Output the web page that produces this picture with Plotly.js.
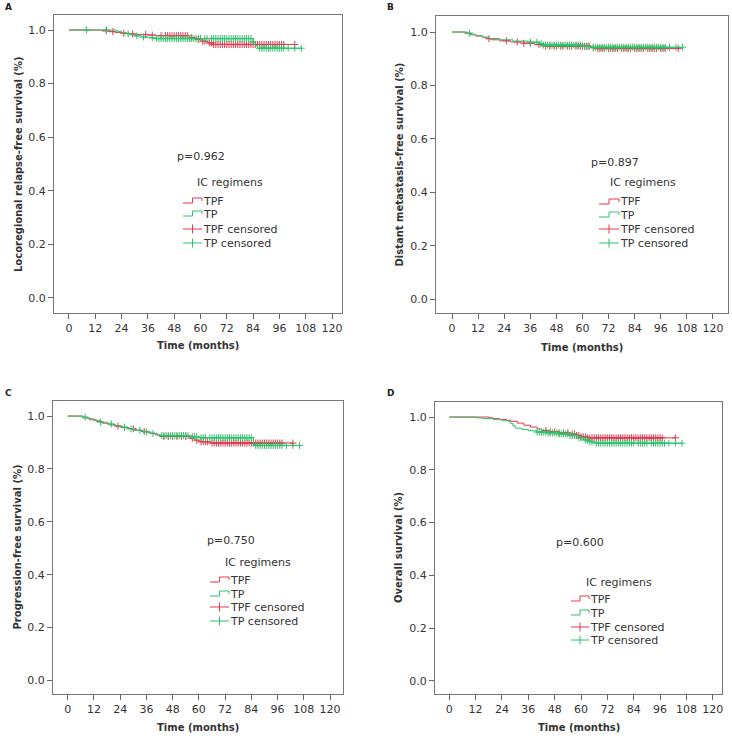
<!DOCTYPE html>
<html>
<head>
<meta charset="utf-8">
<script src="https://cdn.plot.ly/plotly-3.0.1.min.js"></script>
<style>html,body{margin:0;padding:0;background:#fff;}#chart{width:732px;height:736px;}</style>
</head>
<body>
<div id="chart"></div>
<script>
// ---------- DATA ----------
var xTicks = [0, 12, 24, 36, 48, 60, 72, 84, 96, 108, 120];
var yTicks = [0.0, 0.2, 0.4, 0.6, 0.8, 1.0];
var yTickLabels = ["0.0", "0.2", "0.4", "0.6", "0.8", "1.0"];
var seriesNames = ["TPF", "TP"];
var panelLetters = ["A", "B", "C", "D"];
var yTitles = ["Locoregional relapse-free survival (%)", "Distant metastasis-free survival (%)",
               "Progression-free survival (%)", "Overall survival (%)"];
var pValues = ["p=0.962", "p=0.897", "p=0.750", "p=0.600"];

// Panel A
var A_TPF_t = [0, 15, 18, 21, 24, 28, 31, 36, 40, 55, 58, 60, 63, 66];
var A_TPF_s = [1, 0.997, 0.994, 0.991, 0.988, 0.985, 0.983, 0.981, 0.979, 0.972, 0.965, 0.958, 0.952, 0.946];
var A_TPF_end = 103;
var A_TPF_cens = [17, 20, 25, 29, 35, 38, 42, 44, 45, 46, 47, 48, 49, 50, 51, 52, 53, 54, 56, 59, 61, 62, 64, 65, 66, 67, 68, 69, 70, 71, 72, 73, 74, 75, 76, 77, 78, 79, 80, 81, 82, 83, 84, 85, 86, 87, 88, 89, 90, 91, 92, 93, 94, 95, 96, 97, 98, 103];
var A_TP_t = [0, 22, 24, 26, 28, 30, 33, 36, 40, 84, 85, 86];
var A_TP_s = [1, 0.995, 0.99, 0.986, 0.982, 0.978, 0.974, 0.971, 0.968, 0.955, 0.942, 0.932];
var A_TP_end = 106;
var A_TP_cens = [8, 17, 27, 31, 34, 38, 40, 41, 42, 43, 44, 45, 46, 47, 48, 49, 50, 51, 52, 53, 54, 55, 56, 57, 58, 59, 60, 62, 63, 65, 66, 67, 68, 69, 70, 71, 72, 73, 74, 75, 76, 77, 78, 79, 80, 81, 82, 83, 84, 87, 88, 89, 90, 91, 92, 93, 94, 95, 96, 97, 98, 100, 103, 106];

// Panel B
var B_TPF_t = [0, 6, 8, 11, 14, 16, 18, 22, 27, 33, 38, 42, 64, 66];
var B_TPF_s = [1, 0.995, 0.99, 0.985, 0.98, 0.975, 0.971, 0.967, 0.963, 0.958, 0.953, 0.947, 0.941, 0.938];
var B_TPF_end = 104;
var B_TPF_cens = [17, 25, 30, 33, 36, 40, 43, 45, 47, 48, 50, 51, 53, 54, 55, 57, 58, 59, 60, 61, 62, 63, 65, 67, 68, 69, 70, 72, 73, 74, 75, 76, 78, 79, 80, 81, 82, 84, 85, 86, 87, 88, 90, 91, 92, 93, 94, 96, 97, 98, 104];
var B_TP_t = [0, 7, 9, 11, 14, 17, 22, 28, 35, 40, 42, 60, 64];
var B_TP_s = [1, 0.996, 0.99, 0.986, 0.981, 0.976, 0.971, 0.966, 0.962, 0.957, 0.951, 0.946, 0.943];
var B_TP_end = 106;
var B_TP_cens = [8, 36, 39, 41, 42, 43, 44, 45, 46, 47, 48, 49, 50, 51, 52, 53, 54, 55, 56, 57, 58, 59, 61, 62, 63, 65, 66, 67, 68, 69, 70, 71, 72, 73, 74, 75, 76, 77, 78, 79, 80, 81, 82, 83, 84, 85, 86, 87, 88, 89, 90, 91, 92, 93, 94, 95, 96, 97, 98, 100, 103, 106];

// Panel C
var C_TPF_t = [0, 7, 10, 13, 16, 19, 22, 25, 28, 31, 34, 37, 40, 42, 56, 58, 60, 65];
var C_TPF_s = [1, 0.993, 0.986, 0.98, 0.973, 0.967, 0.962, 0.957, 0.952, 0.947, 0.942, 0.936, 0.929, 0.923, 0.916, 0.909, 0.903, 0.898];
var C_TPF_end = 103;
var C_TPF_cens = [23, 26, 30, 35, 44, 46, 48, 50, 52, 54, 57, 59, 61, 62, 63, 64, 66, 67, 68, 69, 70, 71, 72, 73, 74, 75, 76, 77, 78, 79, 80, 81, 82, 83, 84, 85, 86, 87, 88, 89, 90, 91, 92, 93, 94, 95, 96, 97, 98, 103];
var C_TP_t = [0, 7, 9, 12, 15, 18, 21, 24, 27, 30, 34, 38, 41, 43, 56, 60, 85, 86];
var C_TP_s = [1, 0.996, 0.99, 0.984, 0.977, 0.97, 0.964, 0.958, 0.952, 0.946, 0.94, 0.934, 0.929, 0.926, 0.922, 0.918, 0.893, 0.889];
var C_TP_end = 106;
var C_TP_cens = [8, 15, 20, 26, 29, 33, 36, 39, 43, 44, 45, 46, 47, 48, 49, 50, 51, 52, 53, 54, 55, 57, 58, 59, 61, 62, 63, 65, 66, 67, 68, 69, 70, 71, 72, 73, 74, 75, 76, 77, 78, 79, 80, 81, 82, 83, 84, 86, 87, 88, 89, 90, 91, 92, 93, 94, 95, 96, 97, 98, 100, 103, 106];

// Panel D
var D_TPF_t = [0, 18, 20, 23, 26, 28, 31, 34, 37, 40, 42, 45, 50, 55, 58, 60, 63];
var D_TPF_s = [1, 0.997, 0.994, 0.991, 0.988, 0.984, 0.977, 0.969, 0.962, 0.955, 0.949, 0.944, 0.94, 0.935, 0.93, 0.925, 0.921];
var D_TPF_end = 103;
var D_TPF_cens = [44, 46, 48, 50, 52, 54, 56, 57, 58, 59, 60, 61, 62, 63, 64, 65, 66, 67, 68, 69, 70, 71, 72, 73, 74, 75, 76, 77, 78, 79, 80, 81, 82, 83, 84, 85, 86, 87, 88, 89, 90, 91, 92, 93, 94, 95, 96, 97, 103];
var D_TP_t = [0, 12, 15, 20, 24, 27, 28, 29, 30, 33, 36, 40, 45, 50, 55, 58, 61, 64, 66];
var D_TP_s = [1, 0.997, 0.994, 0.99, 0.986, 0.982, 0.975, 0.967, 0.958, 0.953, 0.948, 0.943, 0.94, 0.936, 0.93, 0.922, 0.913, 0.906, 0.901];
var D_TP_end = 106;
var D_TP_cens = [40, 41, 42, 43, 44, 45, 46, 47, 48, 49, 50, 51, 52, 53, 54, 55, 56, 57, 59, 60, 62, 63, 64, 65, 67, 68, 69, 70, 71, 72, 73, 74, 75, 76, 77, 78, 79, 80, 81, 82, 83, 84, 86, 87, 88, 89, 90, 92, 93, 94, 95, 96, 97, 98, 100, 103, 106];

// ---------- STYLE / LAYOUT ----------
var RED = '#e8364f', GREEN = '#2dc26b';
var W = 732, H = 736;
var FONT = 'DejaVu Sans, Verdana, sans-serif';
function px(x) { return x / W; }
function py(y) { return 1 - y / H; }

var panels = [
  {tpf: [A_TPF_t, A_TPF_s, A_TPF_end, A_TPF_cens], tp: [A_TP_t, A_TP_s, A_TP_end, A_TP_cens],
   box: [54, 342, 15, 313], xr: [-6.84, 124.56], yr: [-0.056, 1.056],
   letter: [8, 7], ytx: 18, xty: 345, pTxt: [175, 157], leg: [195, 183], icon: [183, 202], rows: [201, 214, 229, 243]},
  {tpf: [B_TPF_t, B_TPF_s, B_TPF_end, B_TPF_cens], tp: [B_TP_t, B_TP_s, B_TP_end, B_TP_cens],
   box: [436, 728, 16, 313], xr: [-7.36, 126.9], yr: [-0.052, 1.06],
   letter: [390, 7], ytx: 399, xty: 347, pTxt: [589, 162], leg: [608, 183], icon: [599, 619], rows: [202, 215, 229, 243]},
  {tpf: [C_TPF_t, C_TPF_s, C_TPF_end, C_TPF_cens], tp: [C_TP_t, C_TP_s, C_TP_end, C_TP_cens],
   box: [53, 343, 401, 694], xr: [-6.7, 125.9], yr: [-0.051, 1.057],
   letter: [8, 393], ytx: 17, xty: 727, pTxt: [205, 540], leg: [223, 562], icon: [210, 229], rows: [580, 594, 607, 621]},
  {tpf: [D_TPF_t, D_TPF_s, D_TPF_end, D_TPF_cens], tp: [D_TP_t, D_TP_s, D_TP_end, D_TP_cens],
   box: [435, 722, 402, 694], xr: [-6.5, 124.2], yr: [-0.05, 1.057],
   letter: [390, 393], ytx: 398, xty: 727, pTxt: [554, 542], leg: [584, 582], icon: [571, 589], rows: [599, 613, 627, 640]}
];

function survAt(ts, ss, time) {
  var v = ss[0];
  for (var i = 0; i < ts.length; i++) { if (ts[i] <= time) v = ss[i]; }
  return v;
}

var traces = [], shapes = [], annotations = [];
var layout = {
  width: W, height: H, showlegend: false,
  margin: {l: 0, r: 0, t: 0, b: 0},
  paper_bgcolor: '#fff', plot_bgcolor: '#fff',
  font: {family: FONT, size: 11, color: '#333'}
};

panels.forEach(function (p, i) {
  var sfx = i === 0 ? '' : String(i + 1);
  var xa = 'x' + sfx, ya = 'y' + sfx;
  layout['xaxis' + sfx] = {
    domain: [px(p.box[0]), px(p.box[1])], range: p.xr, anchor: ya,
    tickvals: xTicks, ticktext: xTicks.map(String), ticks: 'outside', ticklen: 5, tickcolor: '#666',
    showline: true, mirror: true, linecolor: '#777', linewidth: 1, showgrid: false, zeroline: false,
    tickfont: {family: FONT, size: 11, color: '#333'}, fixedrange: true
  };
  layout['yaxis' + sfx] = {
    domain: [py(p.box[3]), py(p.box[2])], range: p.yr, anchor: xa,
    tickvals: yTicks, ticktext: yTickLabels, ticks: 'outside', ticklen: 5, tickcolor: '#666',
    showline: true, mirror: true, linecolor: '#777', linewidth: 1, showgrid: false, zeroline: false,
    tickfont: {family: FONT, size: 11, color: '#333'}, fixedrange: true
  };
  [[p.tpf, RED, seriesNames[0]], [p.tp, GREEN, seriesNames[1]]].forEach(function (sd) {
    var d = sd[0], col = sd[1];
    var ts = d[0], ss = d[1], end = d[2], cens = d[3];
    traces.push({
      type: 'scatter', mode: 'lines', xaxis: xa, yaxis: ya, name: sd[2],
      x: ts.concat([end]), y: ss.concat([ss[ss.length - 1]]),
      line: {color: col, width: 1, shape: 'hv'}, hoverinfo: 'skip'
    });
    traces.push({
      type: 'scatter', mode: 'markers', xaxis: xa, yaxis: ya, name: sd[2] + ' censored',
      x: cens, y: cens.map(function (c) { return survAt(ts, ss, c); }),
      marker: {symbol: 'cross-thin', size: 5, line: {color: col, width: 1}, color: col}, hoverinfo: 'skip'
    });
  });

  // panel letter
  annotations.push({xref: 'paper', yref: 'paper', x: px(p.letter[0]), y: py(p.letter[1]), text: '<b>' + panelLetters[i] + '</b>',
    showarrow: false, xanchor: 'center', yanchor: 'middle', font: {family: FONT, size: 9, color: '#222'}});
  // axis titles
  annotations.push({xref: 'paper', yref: 'paper', x: px(p.ytx), y: py((p.box[2] + p.box[3]) / 2), text: '<b>' + yTitles[i] + '</b>',
    textangle: -90, showarrow: false, xanchor: 'center', yanchor: 'middle', font: {family: FONT, size: 10, color: '#333'}});
  annotations.push({xref: 'paper', yref: 'paper', x: px((p.box[0] + p.box[1]) / 2), y: py(p.xty), text: '<b>Time (months)</b>',
    showarrow: false, xanchor: 'center', yanchor: 'middle', font: {family: FONT, size: 10, color: '#333'}});
  // p-value and legend title
  annotations.push({xref: 'paper', yref: 'paper', x: px(p.pTxt[0]), y: py(p.pTxt[1]), text: pValues[i],
    showarrow: false, xanchor: 'left', yanchor: 'middle', font: {family: FONT, size: 11, color: '#333'}});
  annotations.push({xref: 'paper', yref: 'paper', x: px(p.leg[0]), y: py(p.leg[1]), text: 'IC regimens',
    showarrow: false, xanchor: 'left', yanchor: 'middle', font: {family: FONT, size: 11, color: '#333'}});
  var labels = [seriesNames[0], seriesNames[1], seriesNames[0] + ' censored', seriesNames[1] + ' censored'];
  var cols = [RED, GREEN, RED, GREEN];
  var x0 = p.icon[0], x1 = p.icon[1], xm = (x0 + x1) / 2;
  labels.forEach(function (lab, k) {
    var yy = p.rows[k];
    annotations.push({xref: 'paper', yref: 'paper', x: px(x1), y: py(yy), text: lab,
      showarrow: false, xanchor: 'left', yanchor: 'middle', xshift: -1, font: {family: FONT, size: 11, color: '#333'}});
    if (k < 2) {
      var path = 'M' + px(x0) + ',' + py(yy + 2) + ' L' + px(xm) + ',' + py(yy + 2) + ' L' + px(xm) + ',' + py(yy - 3) +
                 ' L' + px(x1) + ',' + py(yy - 3) + ' L' + px(x1) + ',' + py(yy);
      shapes.push({type: 'path', xref: 'paper', yref: 'paper', path: path, line: {color: cols[k], width: 1}});
    } else {
      shapes.push({type: 'line', xref: 'paper', yref: 'paper', x0: px(x0), x1: px(x1), y0: py(yy), y1: py(yy), line: {color: cols[k], width: 1}});
      shapes.push({type: 'line', xref: 'paper', yref: 'paper', x0: px(xm), x1: px(xm), y0: py(yy - 4.5), y1: py(yy + 4.5), line: {color: cols[k], width: 1}});
    }
  });
});

layout.shapes = shapes;
layout.annotations = annotations;
Plotly.newPlot('chart', traces, layout, {displayModeBar: false, staticPlot: true});
</script>
</body>
</html>
